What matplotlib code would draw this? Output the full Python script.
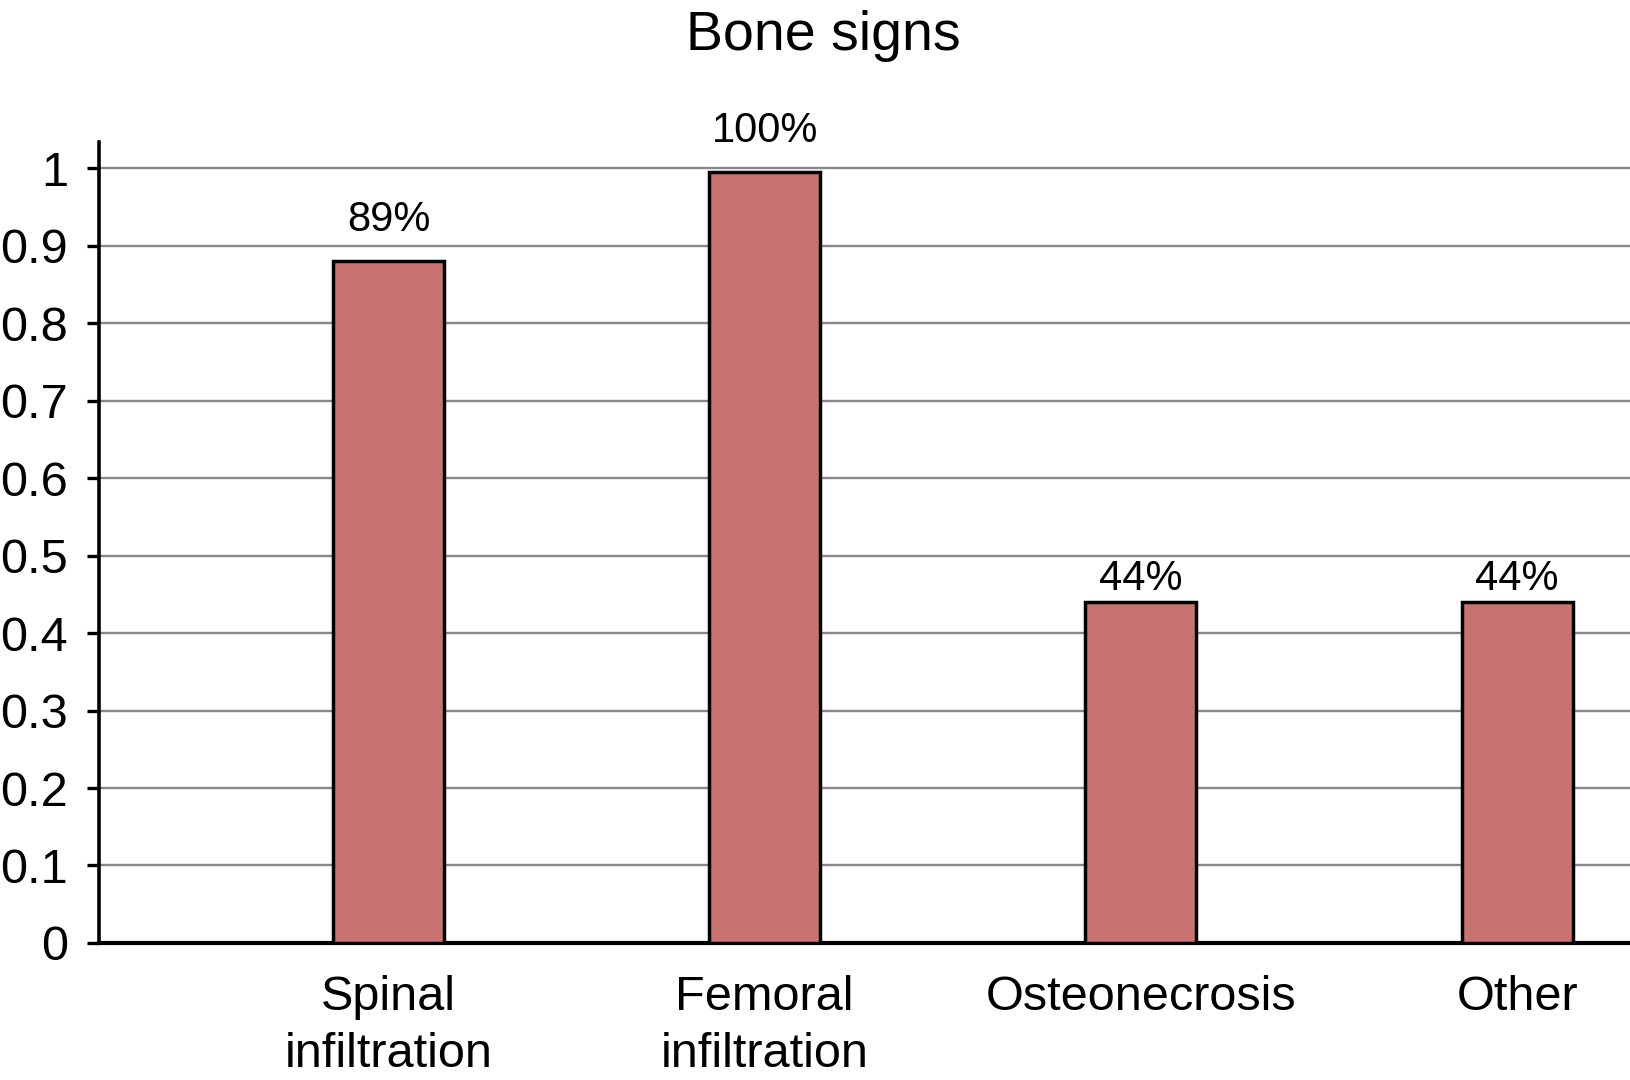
import matplotlib
matplotlib.use("Agg")
import matplotlib.pyplot as plt

categories = ["Spinal\ninfiltration", "Femoral\ninfiltration", "Osteonecrosis", "Other"]
values = [0.88, 0.995, 0.44, 0.44]
value_labels = ["89%", "100%", "44%", "44%"]
yticks = [0, 0.1, 0.2, 0.3, 0.4, 0.5, 0.6, 0.7, 0.8, 0.9, 1]
ytick_labels = ["0", "0.1", "0.2", "0.3", "0.4", "0.5", "0.6", "0.7", "0.8", "0.9", "1"]

# label gap above bar top, points
label_pad = [30, 30, 17, 17]

plt.rcParams['font.family'] = ['Liberation Sans', 'DejaVu Sans']

fig = plt.figure(figsize=(16.3, 10.8), dpi=100)
ax = fig.add_axes([0.0606, 0.1269, 0.9394, 0.7416])

x = list(range(len(categories)))
ax.bar(x, values, width=0.295, color='#c97370', edgecolor='black', linewidth=2.5, zorder=3)

for i, (v, lab) in enumerate(zip(values, value_labels)):
    ax.annotate(lab, (i, v), xytext=(0, label_pad[i]), textcoords='offset points',
                ha='center', va='center', fontsize=30)

ax.set_xlim(-0.77, 3.30)
ax.set_ylim(0, 1.034)
ax.set_yticks(yticks)
ax.set_yticklabels(ytick_labels, fontsize=35)
ax.set_xticks(x)
ax.set_xticklabels(categories, fontsize=35, linespacing=1.35)

ax.yaxis.grid(True, color='#888888', linewidth=1.7, zorder=0)
ax.set_axisbelow(True)
ax.tick_params(axis='y', length=9, width=2.4, pad=13, direction='out')
ax.tick_params(axis='x', length=0, pad=23)

for s in ['top', 'right']:
    ax.spines[s].set_visible(False)
ax.spines['left'].set_linewidth(2.6)
ax.spines['bottom'].set_linewidth(3)

fig.text(0.505, 1 - 50 / 1080, "Bone signs", ha='center', va='baseline', fontsize=40)

fig.savefig("out.png", dpi=100)
